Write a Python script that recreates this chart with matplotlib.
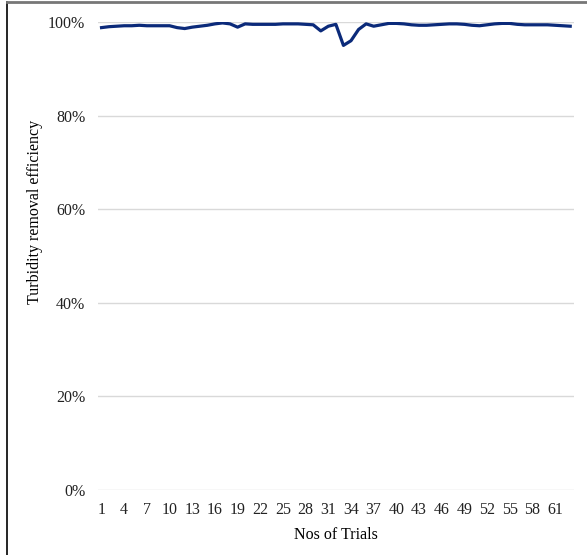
import numpy as np
import matplotlib
matplotlib.use("Agg")
import matplotlib.pyplot as plt
from matplotlib.lines import Line2D

# turbidity removal efficiency per trial (%)
trials = list(range(1, 64))
efficiency = [
    98.8, 99.0, 99.1, 99.2, 99.2, 99.3, 99.2, 99.2, 99.2, 99.2,
    98.8, 98.6, 98.9, 99.1, 99.3, 99.6, 99.8, 99.6, 98.9, 99.6,
    99.5, 99.5, 99.5, 99.5, 99.6, 99.6, 99.6, 99.5, 99.4, 98.1,
    99.1, 99.5, 95.0, 96.0, 98.4, 99.6, 99.1, 99.4, 99.7, 99.7,
    99.6, 99.4, 99.3, 99.3, 99.4, 99.5, 99.6, 99.6, 99.5, 99.3,
    99.2, 99.4, 99.6, 99.7, 99.7, 99.5, 99.4, 99.4, 99.4, 99.4,
    99.3, 99.2, 99.1,
]
x_ticks = list(range(1, 62, 3))
y_ticks = [0, 0.2, 0.4, 0.6, 0.8, 1.0]
y_labels = ["0%", "20%", "40%", "60%", "80%", "100%"]

plt.rcParams['font.family'] = ['Liberation Serif', 'DejaVu Serif']

W, H = 587, 555
ax_l, ax_r, ax_t, ax_b = 97.75, 574, 22, 490
fig = plt.figure(figsize=(W / 100, H / 100), dpi=100)
ax = fig.add_axes([ax_l / W, 1 - ax_b / H, (ax_r - ax_l) / W, (ax_b - ax_t) / H])

vals = np.array(efficiency) / 100.0
ax.plot(trials, vals, color='#0b2a7a', linewidth=2.3, solid_joinstyle='round')

ax.set_xlim(0.5, 63.5)
ax.set_ylim(0, 1.0)
ax.set_xticks(x_ticks)
ax.set_xticklabels([str(t) for t in x_ticks], fontsize=11.5)
ax.set_yticks(y_ticks)
ax.set_yticklabels(y_labels, fontsize=11.5)
ax.tick_params(axis='both', length=0, colors='#222222')
ax.tick_params(axis='x', pad=9)
ax.tick_params(axis='y', pad=9)
ax.grid(axis='y', color='#d9d9d9', linewidth=1)
ax.set_axisbelow(True)
for s in ax.spines.values():
    s.set_visible(False)

ax.set_xlabel("Nos of Trials", fontsize=11.5, labelpad=6)
ax.set_ylabel("Turbidity removal efficiency", fontsize=11.5)
# the y title sits a little above the middle of the plot, as in the original
ax.yaxis.set_label_coords((43 - ax_l) / (ax_r - ax_l), (ax_b - 212) / (ax_b - ax_t))

# outer frame: black left edge, grey top edge
fig.add_artist(Line2D([7 / W, 7 / W], [0, 1 - 2 / H], color='black', linewidth=1.2))
fig.add_artist(Line2D([7 / W, 1], [1 - 1.5 / H, 1 - 1.5 / H], color='#777777', linewidth=2))

fig.savefig("out.png", dpi=100)
